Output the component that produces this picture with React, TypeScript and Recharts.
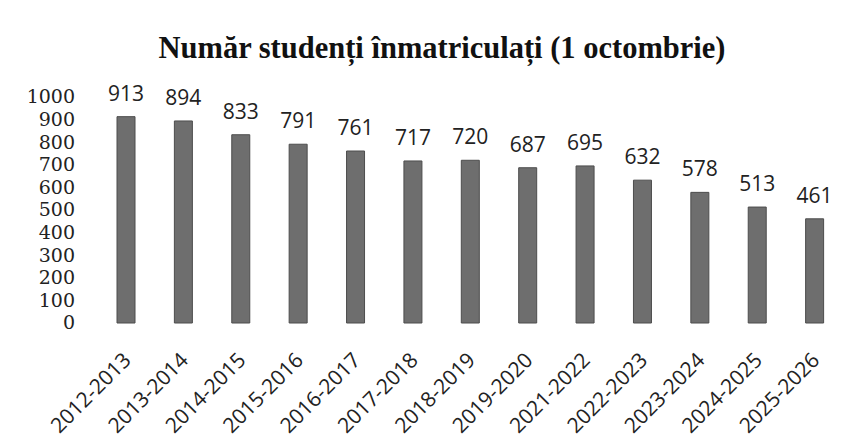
import { BarChart, Bar, XAxis, YAxis, LabelList } from 'recharts';

const years = [
  '2012-2013', '2013-2014', '2014-2015', '2015-2016', '2016-2017', '2017-2018', '2018-2019',
  '2019-2020', '2021-2022', '2022-2023', '2023-2024', '2024-2025', '2025-2026',
];
const students = [913, 894, 833, 791, 761, 717, 720, 687, 695, 632, 578, 513, 461];
const yTicks = [0, 100, 200, 300, 400, 500, 600, 700, 800, 900, 1000];

const data = years.map((year, i) => ({ year, students: students[i] }));

const YearTick = ({ x, y, payload }: any) => (
  <text
    x={x - 4}
    y={y}
    dy="0.71em"
    textAnchor="end"
    transform={`rotate(-45, ${x - 4}, ${y})`}
    fill="#222"
    fontFamily="Open Sans"
    fontSize={21}
  >
    {payload.value}
  </text>
);

// serif numbers on the left, like the original sheet
const CountTick = ({ x, y, payload }: any) => (
  <text
    x={x}
    y={y}
    dy="0.34em"
    textAnchor="end"
    fill="#222"
    fontFamily="DejaVu Serif"
    fontSize={19}
  >
    {payload.value}
  </text>
);

export default function App() {
  return (
    <div style={{ position: 'fixed', left: 0, top: 0, width: 864, height: 445, background: '#fff' }}>
      <div
        style={{
          position: 'absolute',
          left: 0,
          width: 884,
          top: 31,
          textAlign: 'center',
          fontFamily: "'Liberation Serif', serif",
          fontWeight: 'bold',
          fontSize: 30.5,
          color: '#111',
        }}
      >
        Număr studenți înmatriculați (1 octombrie)
      </div>
      <BarChart
        width={864}
        height={445}
        data={data}
        margin={{ top: 97, right: 21, bottom: 0, left: 7 }}
        barSize={18}
      >
        <XAxis
          dataKey="year"
          axisLine={false}
          tickLine={false}
          tickSize={0}
          tickMargin={28}
          height={122}
          interval={0}
          tick={<YearTick />}
        />
        <YAxis
          domain={[0, 1000]}
          ticks={yTicks}
          interval={0}
          axisLine={false}
          tickLine={false}
          tickSize={0}
          tickMargin={22}
          width={90}
          tick={<CountTick />}
        />
        <Bar dataKey="students" fill="#6e6e6e" stroke="#4d4d4d" strokeWidth={1} isAnimationActive={false}>
          <LabelList
            dataKey="students"
            position="top"
            offset={16}
            fill="#222"
            fontFamily="Open Sans"
            fontSize={21}
          />
        </Bar>
      </BarChart>
    </div>
  );
}
